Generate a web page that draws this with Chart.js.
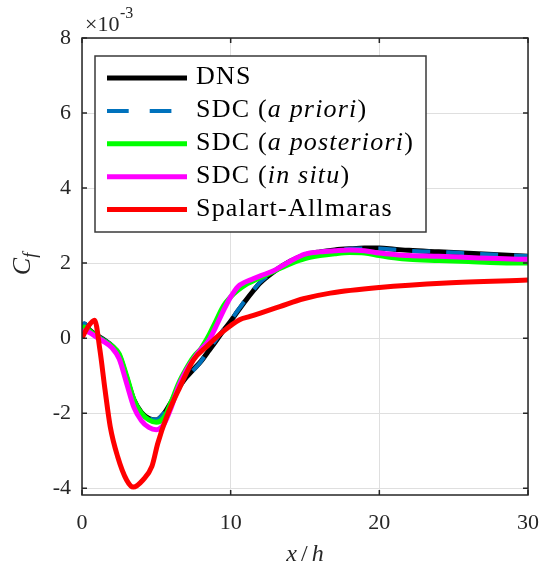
<!DOCTYPE html>
<html>
<head>
<meta charset="utf-8">
<script src="https://cdn.jsdelivr.net/npm/chart.js@4"></script>
<style>
  body { margin: 0; background: #fff; }
  #wrap { width: 543px; height: 567px; }
</style>
</head>
<body>
<div id="wrap"><canvas id="cf"></canvas></div>
<script>
// x/h stations shared by the DNS and SDC curves
const xh = [0, 0.15, 0.5, 1, 1.5, 2, 2.5, 3, 3.5, 4, 4.5, 5, 5.5, 6, 6.5, 7, 7.5, 8, 8.5, 9,
            9.5, 10, 10.5, 11, 11.5, 12, 13, 14, 15, 16, 17, 18, 19, 20, 21, 22, 24, 26, 28, 30];

// Cf values, in units of 1e-3
const dnsCf = [0.0, 0.38, 0.22, 0.08, -0.05, -0.2, -0.45, -1.05, -1.65, -1.98,
               -2.14, -2.18, -2.02, -1.7, -1.33, -1.05, -0.83, -0.62, -0.35, -0.08,
               0.2, 0.45, 0.73, 1.0, 1.25, 1.48, 1.8, 2.05, 2.22, 2.3,
               2.35, 2.38, 2.4, 2.4, 2.37, 2.34, 2.3, 2.26, 2.22, 2.18];
const aprioriCf = [0.0, 0.4, 0.2, 0.07, -0.05, -0.2, -0.45, -1.05, -1.65, -1.98,
                   -2.13, -2.17, -2.0, -1.68, -1.34, -1.07, -0.85, -0.62, -0.33, -0.05,
                   0.22, 0.47, 0.75, 1.02, 1.27, 1.5, 1.8, 2.05, 2.22, 2.3,
                   2.35, 2.38, 2.39, 2.39, 2.36, 2.33, 2.3, 2.26, 2.22, 2.19];
const posterioriCf = [0.0, 0.3, 0.2, 0.05, -0.08, -0.2, -0.42, -1.0, -1.65, -2.0,
                      -2.18, -2.24, -2.12, -1.7, -1.2, -0.82, -0.5, -0.28, 0.05, 0.45,
                      0.85, 1.1, 1.28, 1.42, 1.52, 1.62, 1.8, 1.98, 2.12, 2.2,
                      2.25, 2.28, 2.27, 2.2, 2.14, 2.1, 2.07, 2.04, 2.01, 2.0];
const insituCf = [0.0, 0.2, 0.15, 0.02, -0.1, -0.25, -0.55, -1.2, -1.85, -2.2,
                  -2.38, -2.44, -2.3, -1.85, -1.28, -0.87, -0.56, -0.3, -0.08, 0.3,
                  0.72, 1.1, 1.38, 1.5, 1.58, 1.66, 1.82, 2.05, 2.24, 2.3,
                  2.33, 2.35, 2.33, 2.27, 2.23, 2.2, 2.18, 2.15, 2.12, 2.1];

// Spalart-Allmaras has its own stations
const saX = [0, 0.4, 0.85, 1.2, 1.55, 1.9, 2.4, 3.0, 3.45, 4.1, 4.7, 5.1, 5.7, 6.6,
             7.5, 8.4, 9.5, 10.6, 11.3, 12, 13.3, 14.9, 16.7, 20, 24.5, 30];
const saCf = [0, 0.3, 0.48, -0.3, -1.38, -2.36, -3.16, -3.78, -3.97, -3.78, -3.42, -2.8, -2.09, -1.29,
              -0.58, -0.22, 0.18, 0.49, 0.58, 0.67, 0.84, 1.05, 1.2, 1.35, 1.47, 1.55];

const seriesLabels = ['DNS', 'SDC (a priori)', 'SDC (a posteriori)', 'SDC (in situ)', 'Spalart-Allmaras'];
const xTicks = [0, 10, 20, 30];
const yTicks = [-4, -2, 0, 2, 4, 6, 8];

const axisColor = '#262626';
const serif = '"Liberation Serif", "Times New Roman", serif';

function pts(xs, ys) {
    return xs.map((x, i) => ({ x: x, y: ys[i] }));
}

function line(label, data, color, order, extra) {
    return Object.assign({
        label: label,
        data: data,
        borderColor: color,
        backgroundColor: color,
        borderWidth: 5,
        pointRadius: 0,
        fill: false,
        cubicInterpolationMode: 'monotone',
        order: order,
    }, extra || {});
}

// draws "SDC (a priori)" with the bracketed part in italics
function drawLabel(ctx, text, x, y, size) {
    const m = text.match(/^(.*\()(.*)(\))$/);
    const parts = m ? [[m[1], false], [m[2], true], [m[3], false]] : [[text, false]];
    parts.forEach(([s, it]) => {
        ctx.font = (it ? 'italic ' : '') + size + 'px ' + serif;
        ctx.fillText(s, x, y);
        x += ctx.measureText(s).width;
    });
}

// box, inward ticks, axis titles, exponent and legend
const decorations = {
    id: 'decorations',
    afterDraw(chart) {
        const { ctx, chartArea: a, scales: { x, y } } = chart;
        ctx.save();

        // axes box with ticks pointing inside
        ctx.strokeStyle = axisColor;
        ctx.lineWidth = 1.5;
        ctx.strokeRect(a.left, a.top, a.right - a.left, a.bottom - a.top);
        ctx.beginPath();
        xTicks.forEach(v => {
            const px = x.getPixelForValue(v);
            ctx.moveTo(px, a.bottom); ctx.lineTo(px, a.bottom - 5);
            ctx.moveTo(px, a.top); ctx.lineTo(px, a.top + 5);
        });
        yTicks.forEach(v => {
            const py = y.getPixelForValue(v);
            ctx.moveTo(a.left, py); ctx.lineTo(a.left + 5, py);
            ctx.moveTo(a.right, py); ctx.lineTo(a.right - 5, py);
        });
        ctx.stroke();

        ctx.fillStyle = axisColor;
        ctx.textBaseline = 'alphabetic';

        // exponent label
        ctx.textAlign = 'left';
        ctx.font = '22px ' + serif;
        ctx.fillText('\u00d710', a.left + 3, 31);
        ctx.font = '16px ' + serif;
        ctx.fillText('-3', a.left + 38, 18);

        // x title: x/h
        const cx = (a.left + a.right) / 2;
        ctx.font = 'italic 24px ' + serif;
        const wx = ctx.measureText('x').width;
        const wh = ctx.measureText('h').width;
        ctx.font = '24px ' + serif;
        const ws = ctx.measureText('/').width;
        let tx = cx - (wx + ws + wh + 8) / 2;
        ctx.font = 'italic 24px ' + serif;
        ctx.fillText('x', tx, 561);
        tx += wx + 4;
        ctx.font = '24px ' + serif;
        ctx.fillText('/', tx, 561);
        tx += ws + 4;
        ctx.font = 'italic 24px ' + serif;
        ctx.fillText('h', tx, 561);

        // y title: C_f
        ctx.save();
        ctx.translate(30, (a.top + a.bottom) / 2 - 4);
        ctx.rotate(-Math.PI / 2);
        ctx.font = 'italic 26px ' + serif;
        const wc = ctx.measureText('C').width;
        ctx.fillText('C', -(wc + 8) / 2, 0);
        ctx.font = 'italic 18px ' + serif;
        ctx.fillText('f', -(wc + 8) / 2 + wc, 6);
        ctx.restore();

        // legend
        const lx = 95, ly = 56, lw = 331, lh = 176, row = 32.9;
        ctx.fillStyle = '#fff';
        ctx.fillRect(lx, ly, lw, lh);
        ctx.strokeStyle = '#3a3a3a';
        ctx.lineWidth = 1.5;
        ctx.strokeRect(lx, ly, lw, lh);
        const sets = chart.data.datasets;
        sets.forEach((ds, i) => {
            const cy = ly + 22 + i * row;
            ctx.strokeStyle = ds.borderColor;
            ctx.lineWidth = ds.borderWidth;
            ctx.setLineDash(ds.borderDash ? [21.7, 21] : []);
            ctx.beginPath();
            ctx.moveTo(107, cy);
            ctx.lineTo(187, cy);
            ctx.stroke();
            ctx.setLineDash([]);
            ctx.fillStyle = '#000';
            ctx.letterSpacing = '1.2px';
            drawLabel(ctx, ds.label, 196, cy + 6, 26);
            ctx.letterSpacing = '0px';
        });

        ctx.restore();
    }
};

const tickFont = { family: serif, size: 22 };

new Chart(document.getElementById('cf').getContext('2d'), {
    type: 'scatter',
    data: {
        datasets: [
            line(seriesLabels[0], pts(xh, dnsCf), '#000000', 5),
            line(seriesLabels[1], pts(xh, aprioriCf), '#0072BD', 4, { borderDash: [18, 16], borderWidth: 4 }),
            line(seriesLabels[2], pts(xh, posterioriCf), '#00FF00', 3),
            line(seriesLabels[3], pts(xh, insituCf), '#FF00FF', 2),
            line(seriesLabels[4], pts(saX, saCf), '#FF0000', 1),
        ],
    },
    options: {
        responsive: true,
        maintainAspectRatio: false,
        animation: false,
        showLine: true,
        layout: { padding: { top: 38, right: 15, left: 0, bottom: 0 } },
        plugins: { legend: { display: false }, tooltip: { enabled: false } },
        scales: {
            x: {
                type: 'linear',
                min: 0,
                max: 30,
                afterBuildTicks: s => { s.ticks = xTicks.map(v => ({ value: v })); },
                afterFit: s => { s.height = 72; s.paddingLeft = 0; s.paddingRight = 0; },
                grid: { color: '#dfdfdf', lineWidth: 1, drawTicks: false },
                border: { display: false },
                ticks: { font: tickFont, color: axisColor, padding: 15, maxRotation: 0 },
            },
            y: {
                type: 'linear',
                min: -4.18,
                max: 8,
                afterBuildTicks: s => { s.ticks = yTicks.map(v => ({ value: v })); },
                afterFit: s => { s.width = 82; },
                grid: { color: '#dfdfdf', lineWidth: 1, drawTicks: false },
                border: { display: false },
                ticks: { font: tickFont, color: axisColor, padding: 11 },
            },
        },
    },
    plugins: [decorations],
});
</script>
</body>
</html>
